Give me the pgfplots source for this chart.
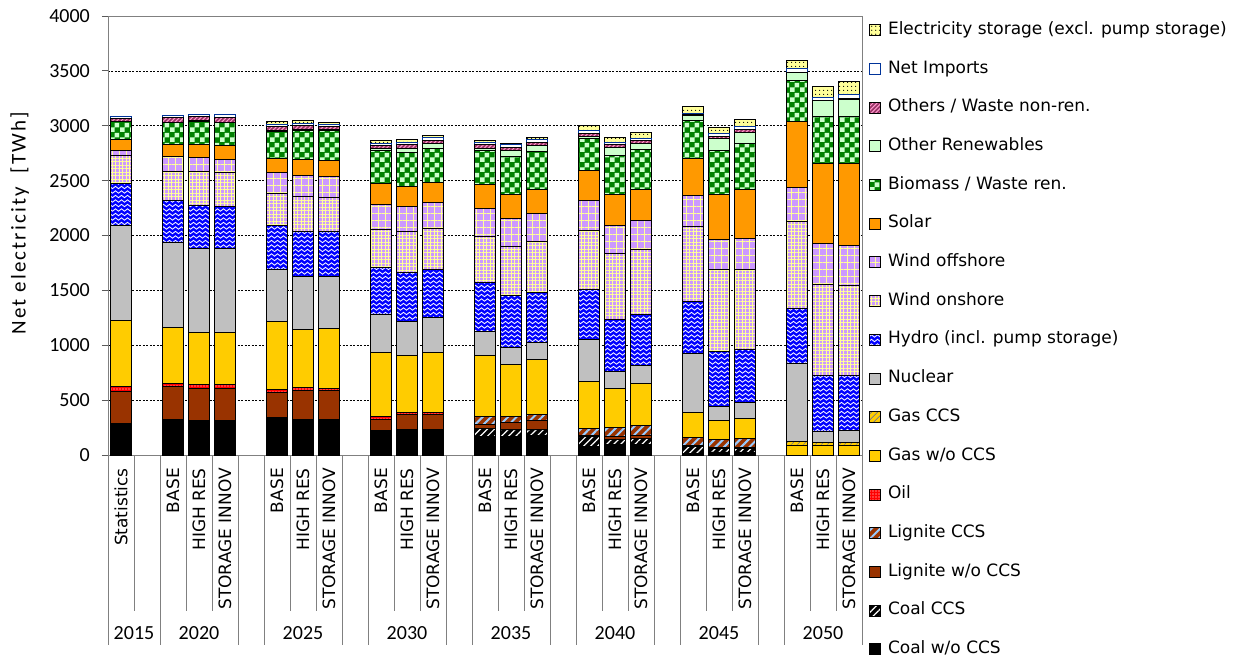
\documentclass[border=0pt]{standalone}
\usepackage{pgfplots}
\pgfplotsset{compat=1.18}
\usepackage{pgfplotstable}
\usepackage{fontspec}
\setmainfont{DejaVu Sans}
\newfontfamily\carlito{Carlito}
\newfontfamily\carlitowide{Carlito}[LetterSpace=10]
\usetikzlibrary{patterns,patterns.meta}

\definecolor{lignite}{HTML}{993300}
\definecolor{ligblue}{HTML}{99CCFF}
\definecolor{gasc}{HTML}{FFCC00}
\definecolor{nucc}{HTML}{C0C0C0}
\definecolor{hydroc}{HTML}{0000FF}
\definecolor{windc}{HTML}{CC99FF}
\definecolor{windgrid}{HTML}{FFFF99}
\definecolor{solarc}{HTML}{FF9900}
\definecolor{bioc}{HTML}{008000}
\definecolor{orenc}{HTML}{CCFFCC}
\definecolor{othc}{HTML}{993366}
\definecolor{othp}{HTML}{FF99CC}
\definecolor{impc}{HTML}{003399}
\definecolor{storc}{HTML}{FFFF99}

\pgfdeclarepatternformonly{waves}{\pgfpoint{-0.5pt}{-0.5pt}}{\pgfpoint{6.5pt}{5pt}}{\pgfpoint{6pt}{4.5pt}}{%
  \pgfsetlinewidth{0.8pt}%
  \pgfpathmoveto{\pgfpoint{0pt}{2pt}}%
  \pgfpathcurveto{\pgfpoint{1pt}{3.6pt}}{\pgfpoint{2pt}{3.6pt}}{\pgfpoint{3pt}{2pt}}%
  \pgfpathcurveto{\pgfpoint{4pt}{0.4pt}}{\pgfpoint{5pt}{0.4pt}}{\pgfpoint{6pt}{2pt}}%
  \pgfusepath{stroke}}
\pgfdeclarepatternformonly{bigchecker}{\pgfpointorigin}{\pgfpoint{10pt}{10pt}}{\pgfpoint{10pt}{10pt}}{%
  \pgfpathrectangle{\pgfpointorigin}{\pgfpoint{5pt}{5pt}}%
  \pgfpathrectangle{\pgfpoint{5pt}{5pt}}{\pgfpoint{5pt}{5pt}}%
  \pgfusepath{fill}}

\pgfplotstableread{
x  coal cccs lig lccs oil gas gccs nuc hyd won wof sol bio oren oth imp sto
0  290  0    293 0    40  601 0    863 386 252 48  104 160 5    25  14  0
2  328  0    295 0    30  507 0    775 386 264 131 112 200 5    43  20  0
3  313  0    295 0    32  475 0    768 389 310 128 115 215 5    42  17  0
4  313  0    295 0    32  475 0    768 380 313 118 125 208 5    43  23  0
6  340  0    233 0    27  614 0    478 396 294 188 128 248 10   34  20  27
7  328  0    264 0    22  534 0    483 404 319 192 148 267 8    32  17  32
8  325  0    261 0    21  550 0    474 404 310 191 149 271 8    32  18  20
10 219  0    109 0    21  587 0    346 428 346 231 189 297 16   30  21  28
11 234  0    131 0    21  522 0    313 441 376 225 182 310 40   30  21  31
12 234  0    137 0    15  547 0    319 440 374 233 183 313 45   30  20  24
14 167  70   45  68   0   561 0    213 446 420 258 219 306 22   30  21  19
15 167  61   66  55   0   477 0    155 468 450 252 224 344 52   30  30  10
16 176  55   79  61   0   501 0    155 452 465 252 219 349 55   30  22  24
18 76   91   8   70   0   429 0    374 462 540 268 270 297 15   30  25  46
19 97   46   24  85   0   356 0    157 471 596 258 285 358 70   22  22  48
20 97   55   30  91   0   374 0    164 471 595 258 280 371 54   25  21  54
22 10   66   10  70   0   234 0    537 470 684 279 344 342 44   8   17  59
23 20   40   5   78   0   167 0    136 496 744 279 410 404 107  20  27  53
24 20   40   6   86   0   182 0    146 483 729 282 441 419 106  22  30  61
26 0    0    0   0    0   88  32   715 502 795 307 599 373 70   5   34  73
27 0    0    0   0    0   85  30   98  510 835 365 735 428 142  5   26  103
28 0    0    0   0    0   85  30   107 501 820 365 750 428 154  5   41  116
}\datatable

\begin{document}
\begin{tikzpicture}
\useasboundingbox (-108pt,-207pt) rectangle (1129pt,455pt);
\begin{axis}[
  scale only axis, width=754pt, height=439pt,
  xmin=-0.5, xmax=28.5, ymin=0, ymax=4000,
  ybar stacked, bar width=0.8,
  clip=false,
  axis line style={draw=gray, line width=0.8pt},
  ytick={0,500,...,4000},
  scaled y ticks=false,
  /pgf/number format/1000 sep={},
  /pgf/number format/assume math mode=true,
  yticklabel style={font=\carlito\fontsize{20}{24}\selectfont, inner sep=0pt},
  yticklabel shift=12pt,
  ytick pos=left, tick align=outside, major tick length=6pt,
  ytick style={draw=gray!70!black, line width=0.8pt},
  xtick={0,2,3,4,6,7,8,10,11,12,14,15,16,18,19,20,22,23,24,26,27,28},
  xticklabels={Statistics,BASE,HIGH RES,STORAGE INNOV,BASE,HIGH RES,STORAGE INNOV,BASE,HIGH RES,STORAGE INNOV,BASE,HIGH RES,STORAGE INNOV,BASE,HIGH RES,STORAGE INNOV,BASE,HIGH RES,STORAGE INNOV,BASE,HIGH RES,STORAGE INNOV},
  xtick style={draw=none},
  xticklabel style={rotate=90, anchor=east, inner sep=0pt, font=\fontsize{17}{20}\selectfont},
  xticklabel shift=7pt,
  ymajorgrids,
  major grid style={black, dash pattern=on 2pt off 1.5pt, line width=0.6pt},
  ylabel={Net electricity\ \ [TWh]},
  every axis y label/.style={at={(axis description cs:-0.117,0.528)}, rotate=90, anchor=center, font=\carlitowide\fontsize{21}{24}\selectfont},
  every axis plot post/.append style={line width=1pt, legend image code/.code={\draw[##1, line width=0.8pt] (0pt,-5.5pt) rectangle (11pt,5.5pt);}},
  legend style={at={(axis description cs:1.0093,0.986)}, anchor=north west, draw=none, fill=none, inner sep=0pt, row sep=23.2pt, column sep=7pt, font=\fontsize{17}{19}\selectfont, nodes={inner sep=0pt, text height=12pt, text depth=3.5pt}},
  legend cell align=left, reverse legend,
]
\addplot[fill=black, draw=black] table[x=x,y=coal]{\datatable};
\addlegendentry{Coal w/o CCS}
\addplot[fill=black, draw=black, postaction={pattern={Lines[angle=45,distance=5pt,line width=1.2pt]}, pattern color=white}] table[x=x,y=cccs]{\datatable};
\addlegendentry{Coal CCS}
\addplot[fill=lignite, draw=black] table[x=x,y=lig]{\datatable};
\addlegendentry{Lignite w/o CCS}
\addplot[fill=lignite, draw=black, postaction={pattern={Lines[angle=45,distance=6pt,line width=2pt]}, pattern color=ligblue}] table[x=x,y=lccs]{\datatable};
\addlegendentry{Lignite CCS}
\addplot[fill=red, draw=black, postaction={pattern={Dots[distance=3pt,radius=0.6pt]}, pattern color=white}] table[x=x,y=oil]{\datatable};
\addlegendentry{Oil}
\addplot[fill=gasc, draw=black] table[x=x,y=gas]{\datatable};
\addlegendentry{Gas w/o CCS}
\addplot[fill=gasc, draw=black, postaction={pattern={Lines[angle=45,distance=4pt,line width=0.8pt]}, pattern color=gray}] table[x=x,y=gccs]{\datatable};
\addlegendentry{Gas CCS}
\addplot[fill=nucc, draw=black] table[x=x,y=nuc]{\datatable};
\addlegendentry{Nuclear}
\addplot[fill=hydroc, draw=black, postaction={pattern=waves, pattern color=white}] table[x=x,y=hyd]{\datatable};
\addlegendentry{Hydro (incl. pump storage)}
\addplot[fill=windc, draw=black, postaction={pattern={Hatch[angle=0,distance=3.5pt,line width=0.7pt]}, pattern color=windgrid}] table[x=x,y=won]{\datatable};
\addlegendentry{Wind onshore}
\addplot[fill=windc, draw=black, postaction={pattern={Hatch[angle=0,distance=7pt,line width=1pt]}, pattern color=windgrid}] table[x=x,y=wof]{\datatable};
\addlegendentry{Wind offshore}
\addplot[fill=solarc, draw=black] table[x=x,y=sol]{\datatable};
\addlegendentry{Solar}
\addplot[fill=bioc, draw=black, postaction={pattern=bigchecker, pattern color=orenc}] table[x=x,y=bio]{\datatable};
\addlegendentry{Biomass / Waste ren.}
\addplot[fill=orenc, draw=black] table[x=x,y=oren]{\datatable};
\addlegendentry{Other Renewables}
\addplot[fill=othc, draw=black, postaction={pattern={Lines[angle=45,distance=3pt,line width=1pt]}, pattern color=othp}] table[x=x,y=oth]{\datatable};
\addlegendentry{Others / Waste non-ren.}
\addplot[fill=white, draw=impc] table[x=x,y=imp]{\datatable};
\addlegendentry{Net Imports}
\addplot[fill=storc, draw=black, postaction={pattern={Dots[distance=4pt,radius=0.7pt]}, pattern color=black}] table[x=x,y=sto]{\datatable};
\addlegendentry{Electricity storage (excl. pump storage)}

\pgfplotsinvokeforeach{0.5,2.5,3.5,6.5,7.5,10.5,11.5,14.5,15.5,18.5,19.5,22.5,23.5,26.5,27.5}{
  \draw[gray, line width=0.8pt] (axis cs:#1,0) -- ++(0pt,-156pt);
}
\pgfplotsinvokeforeach{-0.5,1.5,4.5,5.5,8.5,9.5,12.5,13.5,16.5,17.5,20.5,21.5,24.5,25.5,28.5}{
  \draw[gray, line width=0.8pt] (axis cs:#1,0) -- ++(0pt,-190pt);
}
\node[font=\carlito\fontsize{20}{24}\selectfont, yshift=-178pt] at (axis cs:0.5,0) {2015};
\node[font=\carlito\fontsize{20}{24}\selectfont, yshift=-178pt] at (axis cs:3,0) {2020};
\node[font=\carlito\fontsize{20}{24}\selectfont, yshift=-178pt] at (axis cs:7,0) {2025};
\node[font=\carlito\fontsize{20}{24}\selectfont, yshift=-178pt] at (axis cs:11,0) {2030};
\node[font=\carlito\fontsize{20}{24}\selectfont, yshift=-178pt] at (axis cs:15,0) {2035};
\node[font=\carlito\fontsize{20}{24}\selectfont, yshift=-178pt] at (axis cs:19,0) {2040};
\node[font=\carlito\fontsize{20}{24}\selectfont, yshift=-178pt] at (axis cs:23,0) {2045};
\node[font=\carlito\fontsize{20}{24}\selectfont, yshift=-178pt] at (axis cs:27,0) {2050};
\end{axis}
\end{tikzpicture}
\end{document}
